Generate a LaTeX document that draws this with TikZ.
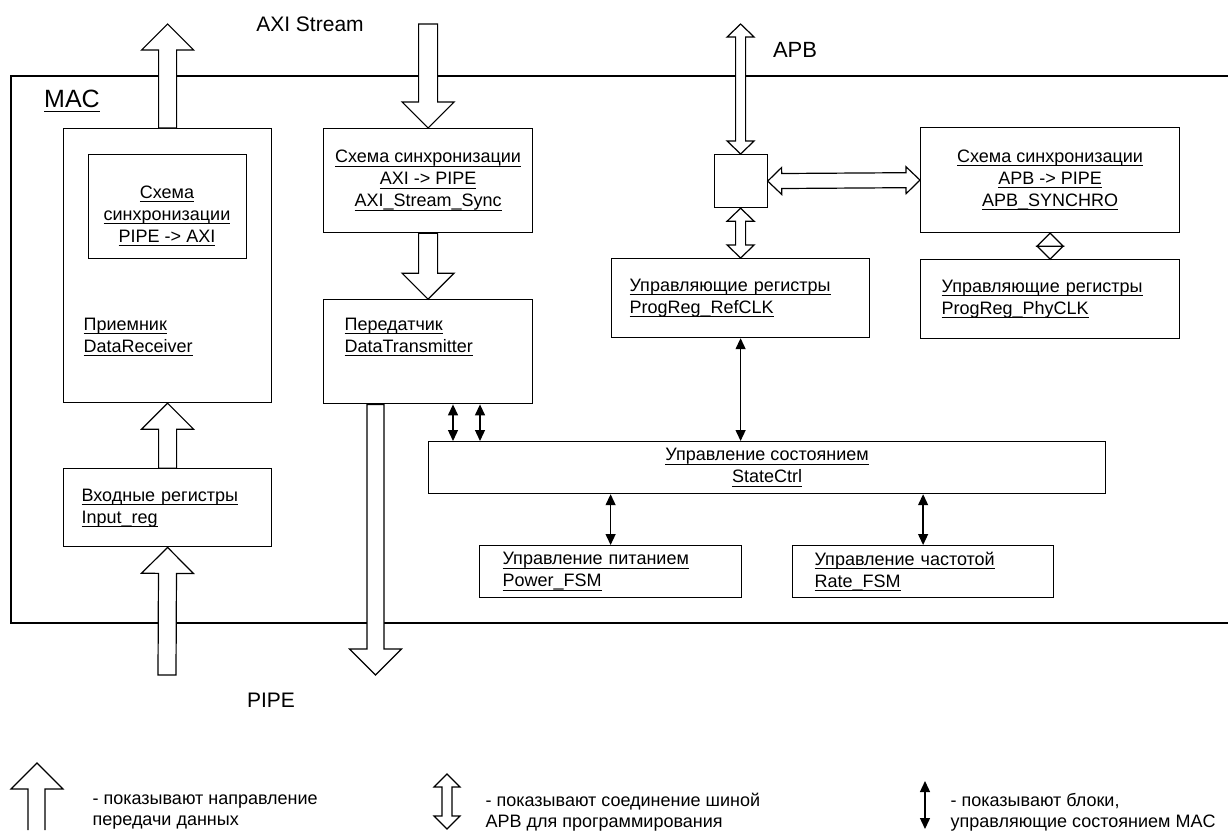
\documentclass[tikz,border=0pt]{standalone}
\usepackage{fontspec}
\setmainfont{Liberation Sans}
\usetikzlibrary{arrows.meta,positioning,calc}

\newsavebox{\ulnbox}
\newcommand{\uln}[1]{\leavevmode\sbox{\ulnbox}{#1}\rlap{\rule[-3.8pt]{\wd\ulnbox}{1.1pt}}\usebox{\ulnbox}}

\newcommand{\fatarrow}[5]{%
  \coordinate (fa-s) at (#1);
  \coordinate (fa-t) at (#2);
  \coordinate (fa-c) at ($(fa-t)!#5!(fa-s)$);
  \filldraw[fill=white] ($(fa-s)!#3!90:(fa-t)$) -- ($(fa-c)!#3!90:(fa-t)$)
    -- ($(fa-c)!#4!90:(fa-t)$) -- (fa-t) -- ($(fa-c)!#4!-90:(fa-t)$)
    -- ($(fa-c)!#3!-90:(fa-t)$) -- ($(fa-s)!#3!-90:(fa-t)$) -- cycle;}
\newcommand{\fatdarrow}[5]{%
  \coordinate (fa-s) at (#1);
  \coordinate (fa-t) at (#2);
  \coordinate (fa-c) at ($(fa-t)!#5!(fa-s)$);
  \coordinate (fa-d) at ($(fa-s)!#5!(fa-t)$);
  \filldraw[fill=white] (fa-s) -- ($(fa-d)!#4!-90:(fa-t)$) -- ($(fa-d)!#3!-90:(fa-t)$)
    -- ($(fa-c)!#3!-90:(fa-t)$) -- ($(fa-c)!#4!-90:(fa-t)$) -- (fa-t)
    -- ($(fa-c)!#4!90:(fa-t)$) -- ($(fa-c)!#3!90:(fa-t)$) -- ($(fa-d)!#3!90:(fa-t)$)
    -- ($(fa-d)!#4!90:(fa-t)$) -- cycle;}

\begin{document}
\begin{tikzpicture}[
  x=1pt, y=-1pt, line width=1.2pt,
  block/.style={draw, inner sep=0pt, anchor=north west},
  txt/.style={font={\fontsize{18}{22}\selectfont}, inner sep=0pt},
  boxl/.style={block, txt, align=left},
  boxc/.style={block, txt, align=center},
  lab/.style={font={\fontsize{21}{25}\selectfont}, inner sep=0pt},
  legend/.style={font={\fontsize{18}{21}\selectfont}, inner sep=0pt, anchor=west, align=left},
  ctl/.style={{Triangle[length=11pt,width=10pt]}-{Triangle[length=11pt,width=10pt]}, line width=1.3pt}
]
\useasboundingbox (0,0) rectangle (1228,830);

\draw (1228,76) -| (11,623) -- (1228,623);
\node[font={\fontsize{25}{30}\selectfont}, inner sep=0pt] (mac) at (72,101) {\uln{MAC}};

\node[block, minimum width=208pt, minimum height=274pt] (rx) at (63,128) {};
\node[block, minimum width=158pt, minimum height=104pt] (rxsync) at (88,154) {};
\node[txt, align=center] (rxstxt) at (167,216)
  {\uln{Схема}\\ \uln{синхронизации}\\ \uln{PIPE -> AXI}};
\node[txt, anchor=west, align=left] (rxtxt) at (83,337) {\uln{Приемник}\\ \uln{DataReceiver}};
\node[boxl, text width=172pt, inner xsep=18pt, minimum height=78pt,
      below=65pt of rx.south west, anchor=north west] (inreg)
  {\uln{Входные регистры}\\ \uln{Input\_reg}};

\node[boxc, minimum width=209pt, minimum height=104pt] (txsync) at (323,128)
  {\uln{Схема синхронизации}\\ \uln{AXI -> PIPE}\\ \uln{AXI\_Stream\_Sync}};
\node[block, minimum width=209pt, minimum height=104pt,
      below=66pt of txsync.south west, anchor=north west] (tx) {};
\node[txt, anchor=west, align=left] (txtxt) at (344,337) {\uln{Передатчик}\\ \uln{DataTransmitter}};

\node[block, minimum size=53pt] (mux) at (713.5,154) {};
\node[boxl, text width=222pt, inner xsep=18pt, minimum height=79pt] (refclk) at (611,258)
  {\uln{Управляющие регистры}\\ \uln{ProgReg\_RefCLK}};
\node[boxc, minimum width=259pt, minimum height=105pt] (apbsync) at (920,127)
  {\uln{Схема синхронизации}\\ \uln{APB -> PIPE}\\ \uln{APB\_SYNCHRO}};
\node[boxl, text width=217pt, inner xsep=21pt, minimum height=79pt,
      below=26pt of apbsync.south west, anchor=north west] (phyclk)
  {\uln{Управляющие регистры}\\ \uln{ProgReg\_PhyCLK}};

\node[boxc, minimum width=677pt, minimum height=52pt] (state) at (428,441)
  {\uln{Управление состоянием}\\ \uln{StateCtrl}};
\node[boxl, text width=216pt, inner xsep=23pt, minimum height=52pt] (power) at (479,545)
  {\uln{Управление питанием}\\ \uln{Power\_FSM}};
\node[boxl, text width=217pt, inner xsep=22pt, minimum height=52pt] (rate) at (792,545)
  {\uln{Управление частотой}\\ \uln{Rate\_FSM}};

\node[lab] (axi) at (310,24) {AXI Stream};
\node[lab, font={\fontsize{22}{26}\selectfont}] (apb) at (795,50) {APB};
\node[lab] (pipe) at (271,700) {PIPE};

\coordinate (rxout) at (rx.north |- axi);
\coordinate (pipein) at (167,675);
\coordinate (axiin) at (txsync.north |- axi);
\coordinate (apbin) at (mux.north |- axi);
\coordinate (txout) at ($(tx.south west)+(52.5,0)$);
\coordinate (pipeout) at (txout |- pipein);
\coordinate (txa) at ($(tx.south west)+(130,0)$);
\coordinate (txb) at ($(tx.south west)+(157,0)$);

\fatarrow{rx.north}{rxout}{9pt}{26pt}{26pt}
\fatarrow{pipein}{inreg.south}{9pt}{26pt}{26pt}
\fatarrow{inreg.north}{rx.south}{9pt}{26pt}{26pt}
\fatarrow{axiin}{txsync.north}{9.5pt}{26pt}{26pt}
\fatarrow{txsync.south}{tx.north}{9.5pt}{26pt}{26pt}
\fatarrow{txout}{pipeout}{8.5pt}{26pt}{26pt}

\fatdarrow{apbin}{mux.north}{5pt}{13.5pt}{13pt}
\fatdarrow{mux.south}{refclk.north}{5pt}{13.5pt}{13pt}
\fatdarrow{mux.east}{apbsync.west}{7.5pt}{13.5pt}{14pt}
\fatdarrow{apbsync.south}{phyclk.north}{0pt}{13pt}{13pt}

\draw[ctl] (txa) -- (txa |- state.north);
\draw[ctl] (txb) -- (txb |- state.north);
\draw[ctl] (refclk.south) -- (refclk.south |- state.north);
\draw[ctl] (state.south -| power.north) -- (power.north);
\draw[ctl] (state.south -| rate.north) -- (rate.north);

\draw[fill=white] (28,830) -- (28,789) -- (11,789) -- (37,763) -- (63,789) -- (45,789) -- (45,830);
\node[legend] (lg1) at (92,812) {- показывают направление\\ передачи данных};
\fatdarrow{447,774}{447,829}{5pt}{13pt}{13pt}
\node[legend] (lg2) at (485,812) {- показывают соединение шиной\\ APB для программирования};
\draw[ctl] (925,781) -- (925,829);
\node[legend] (lg3) at (950,812) {- показывают блоки,\\ управляющие состоянием MAC};
\end{tikzpicture}
\end{document}
